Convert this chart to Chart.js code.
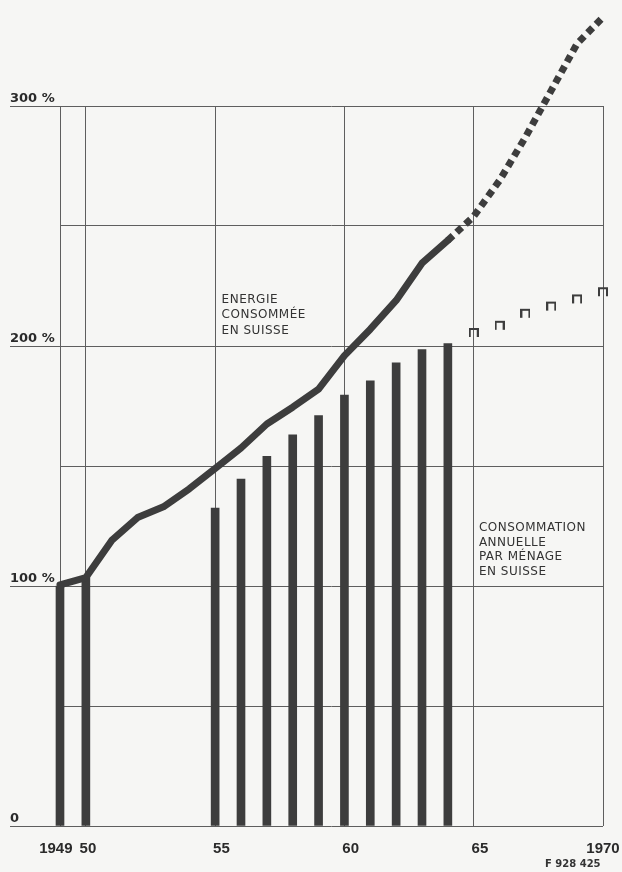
<!DOCTYPE html>
<html>
<head>
<meta charset="utf-8">
<script src="https://cdn.jsdelivr.net/npm/chart.js@4.4.1/dist/chart.umd.min.js"></script>
<style>
  html, body { margin: 0; padding: 0; background: #f6f6f4; }
  canvas { display: block; }
</style>
</head>
<body>
<canvas id="chart" width="622" height="872"></canvas>
<script>
// Consommation annuelle par ménage (1949 = 100 %)
const barYears = [1949, 1950, 1955, 1956, 1957, 1958, 1959, 1960, 1961, 1962, 1963, 1964]
const barValues = [100, 103.5, 132.5, 144.5, 154, 163, 171, 179.5, 185.5, 193, 198.5, 201]

// projection, open markers
const projYears = [1965, 1966, 1967, 1968, 1969, 1970]
const projValues = [207.5, 210.5, 215.5, 218.5, 221.5, 224.5]

// Energie consommée en Suisse
const lineYears = [1949, 1950, 1951, 1952, 1953, 1954, 1955, 1956, 1957, 1958, 1959,
  1960, 1961, 1962, 1963, 1964, 1965, 1966, 1967, 1968, 1969, 1970]
const lineValues = [100.5, 103.5, 119, 128.5, 133, 140.5, 149, 157.5, 167.5, 174.5, 182,
  196, 207, 219, 234.5, 244, 254, 269, 287, 306.5, 326, 337]
const lineProjectedFrom = 1964

// axes
const xTicks = [1949, 1950, 1955, 1960, 1965, 1970]
const xTickLabels = ["1949", "50", "55", "60", "65", "1970"]
const yLabelValues = [0, 100, 200, 300]
const yLabelTexts = ["0", "100 %", "200 %", "300 %"]

// the printed year labels sit a little off their grid lines (spaces: - left, + right)
const xLabelNudge = [-2, 1, 3, 3, 3, 0]

const ink = "#3d3d3d"
const gridInk = "#5e5e5e"

// open "⊓" marker for the projected values, its top edge sits on the value
const marker = document.createElement("canvas")
marker.width = 10
marker.height = 20
{
  const c = marker.getContext("2d")
  c.strokeStyle = ink
  c.lineWidth = 2
  c.beginPath()
  c.moveTo(1, 19)
  c.lineTo(1, 11)
  c.lineTo(9, 11)
  c.lineTo(9, 19)
  c.stroke()
}

// labels written on the chart
const notes = {
  id: "notes",
  afterDraw(chart) {
    const { ctx, scales } = chart
    const x = scales.x
    const y = scales.y
    ctx.save()
    ctx.fillStyle = "#333"
    ctx.font = "12px 'DejaVu Sans'"
    ctx.letterSpacing = "0.5px"
    ctx.textAlign = "left"
    ctx.textBaseline = "alphabetic"
    const e = ["ENERGIE", "CONSOMMÉE", "EN SUISSE"]
    e.forEach((t, i) => ctx.fillText(t, x.getPixelForValue(1955.25), y.getPixelForValue(218) + i * 15.5))
    const c = ["CONSOMMATION", "ANNUELLE", "PAR MÉNAGE", "EN SUISSE"]
    c.forEach((t, i) => ctx.fillText(t, x.getPixelForValue(1965.2), y.getPixelForValue(123) + i * 14.8))
    ctx.font = "bold 10px 'DejaVu Sans'"
    ctx.letterSpacing = "0px"
    ctx.fillText("F 928 425", 545, 867)
    ctx.restore()
  },
}

new Chart(document.getElementById("chart"), {
  type: "bar",
  data: {
    datasets: [
      {
        type: "scatter",
        data: projYears.map((x, i) => ({ x, y: projValues[i] })),
        pointStyle: marker,
        pointRadius: 5,
        clip: false,
        order: 0,
      },
      {
        type: "line",
        data: lineYears.map((x, i) => ({ x, y: lineValues[i] })),
        borderColor: ink,
        borderWidth: 7,
        borderJoinStyle: "round",
        pointRadius: 0,
        tension: 0,
        clip: false,
        segment: {
          borderDash: (ctx) => (ctx.p0.parsed.x >= lineProjectedFrom ? [7, 5] : undefined),
          borderCapStyle: (ctx) => (ctx.p0.parsed.x >= lineProjectedFrom ? "butt" : "round"),
        },
        order: 1,
      },
      {
        type: "bar",
        data: barYears.map((x, i) => ({ x, y: barValues[i] })),
        backgroundColor: ink,
        barThickness: 8,
        clip: false,
        order: 2,
      },
    ],
  },
  options: {
    responsive: false,
    animation: false,
    layout: { padding: { left: 10, right: 19, top: 106, bottom: 0 } },
    plugins: {
      legend: { display: false },
      title: { display: false },
      tooltip: { enabled: false },
    },
    scales: {
      x: {
        type: "linear",
        min: 1949,
        max: 1970,
        offset: false,
        afterBuildTicks: (scale) => {
          scale.ticks = xTicks.map((v) => ({ value: v }))
        },
        afterFit: (scale) => {
          scale.height = 46
          scale.paddingLeft = 0
          scale.paddingRight = 0
        },
        grid: { color: gridInk, lineWidth: 1, drawTicks: false, offset: false },
        border: { display: false },
        ticks: {
          autoSkip: false,
          maxRotation: 0,
          padding: 14,
          color: "#2a2a2a",
          font: { family: "'Liberation Sans'", size: 15, weight: "bold" },
          callback: (v, i) => {
            const n = xLabelNudge[i]
            const pad = " ".repeat(Math.abs(n))
            return n < 0 ? xTickLabels[i] + pad : pad + xTickLabels[i]
          },
        },
      },
      y: {
        min: 0,
        max: 300,
        afterFit: (scale) => {
          scale.width = 50
        },
        grid: {
          color: gridInk,
          lineWidth: 1,
          tickLength: 50,
          tickColor: (ctx) => (yLabelValues.includes(ctx.tick.value) ? gridInk : "transparent"),
        },
        border: { display: false },
        ticks: {
          stepSize: 50,
          padding: 0,
          crossAlign: "far",
          labelOffset: -7,
          color: "#2a2a2a",
          font: { family: "'DejaVu Sans'", size: 13, weight: "bold" },
          callback: (v) => {
            const k = yLabelValues.indexOf(v)
            return k >= 0 ? yLabelTexts[k] : ""
          },
        },
      },
    },
  },
  plugins: [notes],
})
</script>
</body>
</html>
